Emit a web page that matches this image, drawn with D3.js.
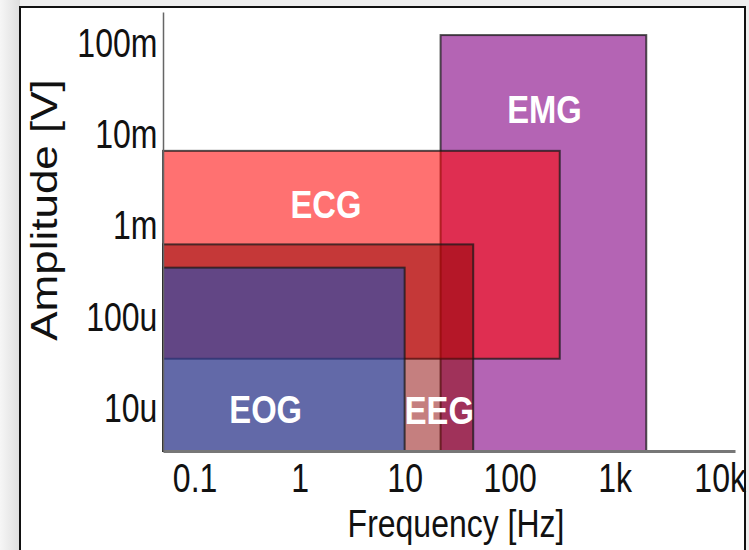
<!DOCTYPE html>
<html>
<head>
<meta charset="utf-8">
<script src="https://cdn.jsdelivr.net/npm/d3@7"></script>
<style>
  body { margin: 0; background: #eeeeee; }
  svg { display: block; }
  text { font-family: "Liberation Sans", Arial, sans-serif; }
</style>
</head>
<body>
<svg id="chart" width="749" height="550"></svg>
<script>
// axis ticks
const freqTicks = [0.1, 1, 10, 100, 1000, 10000];
const freqTickLabels = ["0.1", "1", "10", "100", "1k", "10k"];
const ampTicks = [1e-5, 1e-4, 1e-3, 1e-2, 1e-1];
const ampTickLabels = ["10u", "100u", "1m", "10m", "100m"];

// signal bands (Hz, V), drawn in this order
const signals = ["EMG", "ECG", "EEG", "EOG"];
const freqLow = [22, 0.05, 0.05, 0.05];
const freqHigh = [2000, 300, 45, 10];
const ampLow = [3.4e-6, 3.5e-5, 3.4e-6, 3.4e-6];
const ampHigh = [0.125, 6.7e-3, 6.3e-4, 3.5e-4];
const labelFreq = [215, 1.78, 21.4, 0.475];
const labelAmp = [0.0193, 1.75e-3, 9.6e-6, 9.8e-6];

const fills = ["#b464b4", "rgb(255,5,5)", "rgb(140,0,0)", "rgb(0,83,209)"];
const fillOpacity = [1, 0.57, 0.5, 0.5];

const svg = d3.select("#chart");

// frame of the picture
const shade = svg.append("defs").append("linearGradient").attr("id", "shade");
shade.append("stop").attr("offset", "0%").attr("stop-color", "#f6f6f6");
shade.append("stop").attr("offset", "100%").attr("stop-color", "#dedede");
svg.append("rect").attr("x", 0).attr("y", 0).attr("width", 20).attr("height", 550)
    .attr("fill", "url(#shade)");
svg.append("rect")
    .attr("x", 20).attr("y", 7).attr("width", 725).attr("height", 560)
    .attr("fill", "#fff").attr("stroke", "#111").attr("stroke-width", 2);

const x = d3.scaleLog().domain([0.05, 14000]).range([163, 735]);
const y = d3.scaleLog().domain([3.4e-6, 0.224]).range([451, 12]);

const sx = 0.8; // the source picture is squeezed sideways

const g = svg.append("g");

g.selectAll("rect.band")
    .data(signals)
    .enter().append("rect")
    .attr("class", "band")
    .attr("x", (d, i) => x(freqLow[i]))
    .attr("y", (d, i) => y(ampHigh[i]))
    .attr("width", (d, i) => x(freqHigh[i]) - x(freqLow[i]))
    .attr("height", (d, i) => y(ampLow[i]) - y(ampHigh[i]))
    .attr("fill", (d, i) => fills[i])
    .attr("fill-opacity", (d, i) => fillOpacity[i])
    .attr("stroke", "#1a1a1a")
    .attr("stroke-opacity", 0.75)
    .attr("stroke-width", 2);

const xAxis = svg.append("g")
    .attr("transform", `translate(0,${y(3.4e-6)})`)
    .call(d3.axisBottom(x)
        .tickValues(freqTicks)
        .tickFormat((d, i) => freqTickLabels[i])
        .tickSize(0).tickPadding(13));
xAxis.select(".domain").attr("stroke", "#777").attr("stroke-width", 3);

const yAxis = svg.append("g")
    .attr("transform", `translate(${x(0.05)},0)`)
    .call(d3.axisLeft(y)
        .tickValues(ampTicks)
        .tickFormat((d, i) => ampTickLabels[i])
        .tickSize(0).tickPadding(7));
yAxis.select(".domain").attr("stroke", "#666").attr("stroke-width", 1.5);

svg.selectAll(".tick text")
    .attr("font-family", "Liberation Sans, Arial, sans-serif")
    .attr("font-size", 40)
    .attr("fill", "#111")
    .attr("transform", `scale(${sx},1)`);

// band names
g.selectAll("text.name")
    .data(signals)
    .enter().append("text")
    .attr("class", "name")
    .attr("transform", (d, i) => `translate(${x(labelFreq[i])},${y(labelAmp[i])}) scale(0.84,1)`)
    .attr("text-anchor", "middle")
    .attr("dy", "0.36em")
    .attr("font-size", 39)
    .attr("font-weight", "bold")
    .attr("fill", "#fff")
    .text(d => d);

// axis titles
svg.append("text")
    .attr("transform", `translate(456,537) scale(0.82,1)`)
    .attr("text-anchor", "middle")
    .attr("font-size", 39)
    .attr("fill", "#111")
    .text("Frequency [Hz]");

svg.append("text")
    .attr("transform", `translate(57,210) scale(0.84,1) rotate(-90)`)
    .attr("text-anchor", "middle")
    .attr("font-size", 44)
    .attr("fill", "#111")
    .text("Amplitude [V]");
</script>
</body>
</html>
